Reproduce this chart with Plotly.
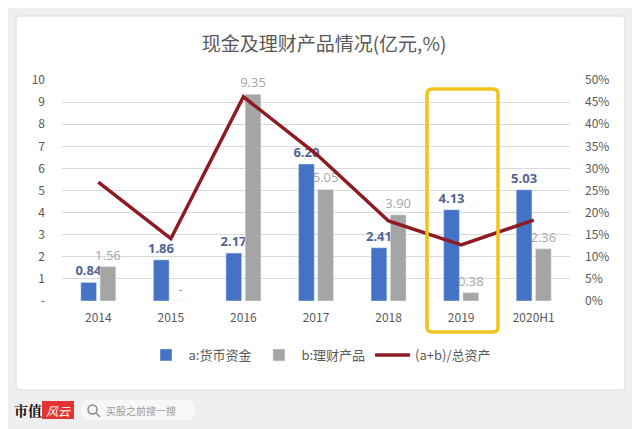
import plotly.graph_objects as go

years = ["2014", "2015", "2016", "2017", "2018", "2019", "2020H1"]
cash = [0.84, 1.86, 2.17, 6.20, 2.41, 4.13, 5.03]
wealth = [1.56, 0, 9.35, 5.05, 3.90, 0.38, 2.36]
wealth_text = ["1.56", "-", "9.35", "5.05", "3.90", "0.38", "2.36"]
ratio = [0.269, 0.141, 0.462, 0.333, 0.181, 0.127, 0.183]

left_ticks = list(range(0, 11))
left_ticktext = ["-"] + [str(v) for v in range(1, 11)]

font_cn = "Noto Sans CJK SC"
blue = "#4472c4"
gray = "#a5a5a5"
red = "#8e1b24"

fig = go.Figure()
fig.add_trace(go.Bar(
    x=years, y=cash, name="a:货币资金", marker_color=blue,
    text=[f"{v:.2f}" for v in cash], textposition="outside", constraintext="none",
    textfont=dict(color="#4e6595", size=13, family="Open Sans"),
    texttemplate="<b>%{text}</b>", cliponaxis=False,
))
fig.add_trace(go.Bar(
    x=years, y=wealth, name="b:理财产品", marker_color=gray,
    text=wealth_text, textposition="outside", constraintext="none",
    textfont=dict(color="#a6a6a6", size=13, family="Open Sans"),
    cliponaxis=False,
))
fig.add_trace(go.Scatter(
    x=years, y=ratio, name="(a+b)/总资产", yaxis="y2", mode="lines",
    line=dict(color=red, width=3.5),
))

# page has an 8px body margin, so the figure is 632x421 and starts at (8, 8);
# helpers take page pixel positions (plot area spans x 62..570, y 80..301)
def px_x(p):
    return (p - 62) / 508

def px_y(p):
    return (301 - p) / 221

def rounded_rect(x0, y0, x1, y1, r):
    # pixel box -> svg path in paper coords with rounded corners
    X = lambda p: f"{px_x(p):.5f}"
    Y = lambda p: f"{px_y(p):.5f}"
    return (f"M {X(x0 + r)},{Y(y0)} L {X(x1 - r)},{Y(y0)} Q {X(x1)},{Y(y0)} {X(x1)},{Y(y0 + r)} "
            f"L {X(x1)},{Y(y1 - r)} Q {X(x1)},{Y(y1)} {X(x1 - r)},{Y(y1)} "
            f"L {X(x0 + r)},{Y(y1)} Q {X(x0)},{Y(y1)} {X(x0)},{Y(y1 - r)} "
            f"L {X(x0)},{Y(y0 + r)} Q {X(x0)},{Y(y0)} {X(x0 + r)},{Y(y0)} Z")

shapes = [
    # white card
    dict(type="path", xref="paper", yref="paper", layer="below",
         path=rounded_rect(16, 16, 625, 390, 4),
         fillcolor="white", line=dict(color="#dadada", width=1)),
    # highlight box around 2019
    dict(type="path", xref="paper", yref="paper",
         path=rounded_rect(427, 89, 498, 332, 5),
         line=dict(color="#f2c31b", width=3.5)),
    # red logo box
    dict(type="rect", xref="paper", yref="paper",
         x0=px_x(42), x1=px_x(74), y0=px_y(419), y1=px_y(401),
         fillcolor="#e3342f", line=dict(width=0)),
    # search pill
    dict(type="path", xref="paper", yref="paper",
         path=rounded_rect(80, 399, 196, 421, 10),
         fillcolor="#f7f7f7", line=dict(color="#ececec", width=1)),
    dict(type="circle", xref="paper", yref="paper",
         x0=px_x(88), x1=px_x(97), y0=px_y(414), y1=px_y(405),
         line=dict(color="#888888", width=1.5)),
    dict(type="line", xref="paper", yref="paper",
         x0=px_x(96), x1=px_x(100), y0=px_y(413), y1=px_y(417),
         line=dict(color="#888888", width=1.5)),
]

annotations = [
    dict(text="<b>市值</b>", xref="paper", yref="paper", x=px_x(28), y=px_y(410),
         xanchor="center", yanchor="middle", showarrow=False,
         font=dict(size=14, color="#111111", family="Noto Serif CJK SC, " + font_cn)),
    dict(text="<i>风云</i>", xref="paper", yref="paper", x=px_x(58), y=px_y(410),
         xanchor="center", yanchor="middle", showarrow=False,
         font=dict(size=12, color="white", family=font_cn)),
    dict(text="买股之前搜一搜", xref="paper", yref="paper", x=px_x(104), y=px_y(410),
         xanchor="left", yanchor="middle", showarrow=False,
         font=dict(size=10, color="#9a9a9a", family=font_cn)),
]

fig.update_layout(
    width=632, height=421,
    margin=dict(l=54, r=70, t=72, b=128, autoexpand=False),
    paper_bgcolor="#efefef", plot_bgcolor="white",
    font=dict(family=font_cn, color="#595959", size=12),
    title=dict(text="现金及理财产品情况(亿元,%)", x=0.5, xanchor="center",
               y=1 - 36 / 421, yanchor="middle",
               font=dict(size=19, color="#595959", family=font_cn)),
    barmode="group", bargap=0.47, bargroupgap=0.18,
    xaxis=dict(showgrid=False, showline=False, ticks="", ticklabelstandoff=8,
               tickfont=dict(size=12, color="#595959")),
    yaxis=dict(range=[0, 10], tickvals=left_ticks, ticktext=left_ticktext,
               gridcolor="#d9d9d9", gridwidth=1, zeroline=False, showline=False,
               ticks="", ticklabelstandoff=16, tickfont=dict(size=12, color="#595959")),
    yaxis2=dict(range=[0, 0.5], dtick=0.05, tickformat=".0%", overlaying="y", side="right",
                showgrid=False, zeroline=False, showline=False, ticks="",
                ticklabelstandoff=14, tickfont=dict(size=12, color="#595959")),
    legend=dict(orientation="h", x=px_x(320), xanchor="center", y=px_y(355), yanchor="middle",
                bgcolor="rgba(0,0,0,0)", font=dict(size=13, color="#595959"),
                itemwidth=35, traceorder="normal"),
    shapes=shapes,
    annotations=annotations,
)

fig.write_html("out.html")
